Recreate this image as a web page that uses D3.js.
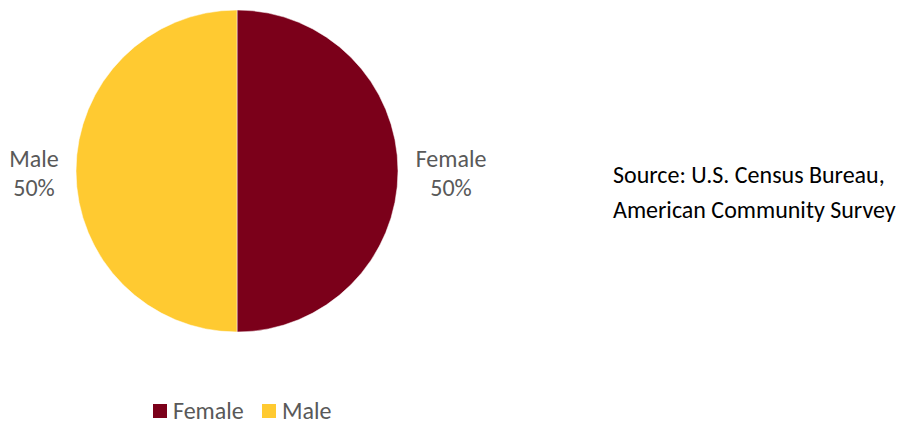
<!DOCTYPE html>
<html>
<head>
<meta charset="utf-8">
<script src="https://cdn.jsdelivr.net/npm/d3@7"></script>
<style>
  body { margin: 0; background: #fff; }
  svg { display: block; }
</style>
</head>
<body>
<svg id="chart" width="899" height="424"></svg>
<script>
// data
var categories = ["Female", "Male"];
var shares = [50, 50];
var colors = ["#7B001A", "#FFCA31"];
var sourceLines = ["Source: U.S. Census Bureau,", "American Community Survey"];

var font = "Carlito, Calibri, Lato, sans-serif";

var svg = d3.select("#chart");

var cx = 237, cy = 171, radius = 161;

var data = categories.map(function (c, i) {
    return { name: c, value: shares[i] };
});

var pie = d3.pie()
    .sort(null)
    .value(function (d) { return d.value; });

var arc = d3.arc().innerRadius(0).outerRadius(radius);

var color = d3.scaleOrdinal().domain(categories).range(colors);

var g = svg.append("g").attr("transform", "translate(" + cx + "," + cy + ")");

var arcs = pie(data);

g.selectAll("path")
    .data(arcs)
    .enter().append("path")
    .attr("d", arc)
    .attr("fill", function (d) { return color(d.data.name); })
    .attr("stroke", "#fff")
    .attr("stroke-width", 0.5);

// outside labels (offsets from pie centre)
var labelPos = [[214, -4], [-203, -4]];
arcs.forEach(function (d, i) {
    var t = g.append("text")
        .attr("x", labelPos[i][0])
        .attr("y", labelPos[i][1])
        .attr("text-anchor", "middle")
        .style("font-family", font)
        .style("font-size", "24px")
        .style("fill", "#595959");
    t.append("tspan").attr("x", labelPos[i][0]).attr("dy", 0).text(d.data.name);
    t.append("tspan").attr("x", labelPos[i][0]).attr("dy", 29).text(d.data.value + "%");
});

// source note
svg.append("text")
    .attr("x", 613)
    .attr("y", 183)
    .style("font-family", font)
    .style("font-size", "24px")
    .style("fill", "#000")
    .selectAll("tspan")
    .data(sourceLines)
    .enter().append("tspan")
    .attr("x", 613)
    .attr("dy", function (d, i) { return i ? 35 : 0; })
    .text(function (d) { return d; });

// legend
var legendX = [153, 262];
var legend = svg.selectAll(".legend")
    .data(categories)
    .enter().append("g")
    .attr("class", "legend")
    .attr("transform", function (d, i) { return "translate(" + legendX[i] + ",404)"; });

legend.append("rect")
    .attr("width", 14)
    .attr("height", 14)
    .attr("fill", function (d) { return color(d); });

legend.append("text")
    .attr("x", 20)
    .attr("y", 15)
    .style("font-family", font)
    .style("font-size", "24px")
    .style("fill", "#595959")
    .text(function (d) { return d; });
</script>
</body>
</html>
